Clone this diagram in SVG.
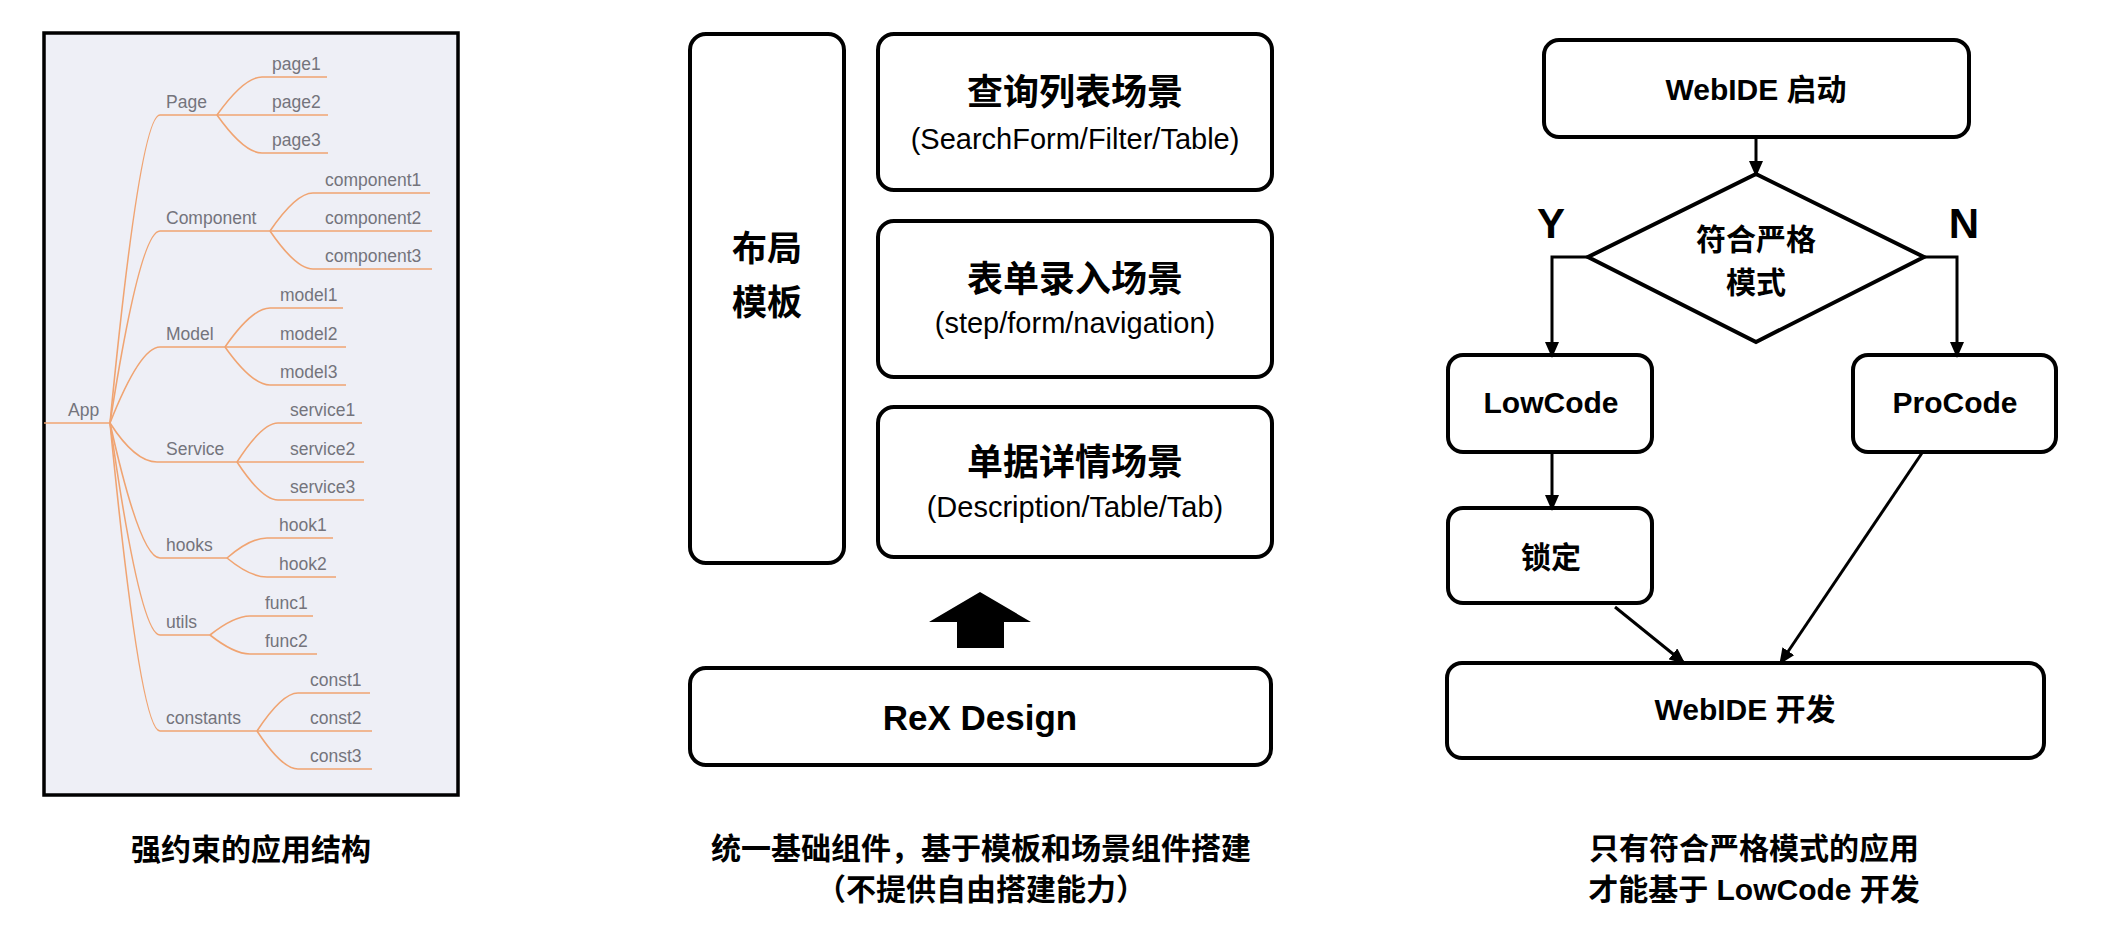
<svg xmlns="http://www.w3.org/2000/svg" width="2104" height="934" viewBox="0 0 2104 934">
<defs>
<style>
.bg{fill:#ffffff}
.panel{fill:#eeeff6;stroke:#000;stroke-width:3.5}
.tl{fill:none;stroke:#f0a472;stroke-width:1.6}
.tt{font-family:"Liberation Sans","Noto Sans",sans-serif;font-size:17.5px;fill:#74747c}
.box{fill:#fff;stroke:#000;stroke-width:4}
.cn{font-family:"Liberation Sans","Noto Sans CJK SC",sans-serif;font-weight:bold;fill:#000;text-anchor:middle}
.sub{font-family:"Liberation Sans","Noto Sans CJK SC",sans-serif;font-size:29px;fill:#000;text-anchor:middle}
.ln{fill:none;stroke:#000;stroke-width:3}
</style>
<marker id="ah" markerUnits="userSpaceOnUse" markerWidth="16" markerHeight="14" refX="13" refY="7" orient="auto">
<path d="M0,0 L16,7 L0,14 z" fill="#000"/>
</marker>
</defs>
<rect class="bg" x="0" y="0" width="2104" height="934"/>

<g id="app-structure">
<rect class="panel" x="44" y="33" width="414" height="762"/>
<path class="tl" d="M44,423 H110"/>
<text class="tt" x="68" y="416">App</text>
<!-- top level -->
<path class="tl" d="M110,423 Q140,115 160,115 H217"/>
<path class="tl" d="M110,423 Q140,231 160,231 H270"/>
<path class="tl" d="M110,423 Q140,347 160,347 H225"/>
<path class="tl" d="M110,423 Q135,462 157,462 H237"/>
<path class="tl" d="M110,423 Q140,558 160,558 H227"/>
<path class="tl" d="M110,423 Q140,635 160,635 H210"/>
<path class="tl" d="M110,423 Q140,731 160,731 H257"/>
<text class="tt" x="166" y="108">Page</text>
<text class="tt" x="166" y="224">Component</text>
<text class="tt" x="166" y="340">Model</text>
<text class="tt" x="166" y="455">Service</text>
<text class="tt" x="166" y="551">hooks</text>
<text class="tt" x="166" y="628">utils</text>
<text class="tt" x="166" y="724">constants</text>
<!-- Page -->
<path class="tl" d="M217,115 Q244,77 262,77 H327"/>
<path class="tl" d="M217,115 H328"/>
<path class="tl" d="M217,115 Q244,153 262,153 H328"/>
<text class="tt" x="272" y="70">page1</text>
<text class="tt" x="272" y="108">page2</text>
<text class="tt" x="272" y="146">page3</text>
<!-- Component -->
<path class="tl" d="M270,231 Q296,193 313,193 H430"/>
<path class="tl" d="M270,231 H432"/>
<path class="tl" d="M270,231 Q296,269 313,269 H432"/>
<text class="tt" x="325" y="186">component1</text>
<text class="tt" x="325" y="224">component2</text>
<text class="tt" x="325" y="262">component3</text>
<!-- Model -->
<path class="tl" d="M225,347 Q252,308 270,308 H343"/>
<path class="tl" d="M225,347 H346"/>
<path class="tl" d="M225,347 Q252,385 270,385 H346"/>
<text class="tt" x="280" y="301">model1</text>
<text class="tt" x="280" y="340">model2</text>
<text class="tt" x="280" y="378">model3</text>
<!-- Service -->
<path class="tl" d="M237,462 Q262,423 278,423 H362"/>
<path class="tl" d="M237,462 H364"/>
<path class="tl" d="M237,462 Q262,500 278,500 H364"/>
<text class="tt" x="290" y="416">service1</text>
<text class="tt" x="290" y="455">service2</text>
<text class="tt" x="290" y="493">service3</text>
<!-- hooks -->
<path class="tl" d="M227,558 Q250,538 267,538 H333"/>
<path class="tl" d="M227,558 Q250,577 267,577 H336"/>
<text class="tt" x="279" y="531">hook1</text>
<text class="tt" x="279" y="570">hook2</text>
<!-- utils -->
<path class="tl" d="M210,635 Q234,616 250,616 H313"/>
<path class="tl" d="M210,635 Q234,654 250,654 H317"/>
<text class="tt" x="265" y="609">func1</text>
<text class="tt" x="265" y="647">func2</text>
<!-- constants -->
<path class="tl" d="M257,731 Q282,693 298,693 H370"/>
<path class="tl" d="M257,731 H372"/>
<path class="tl" d="M257,731 Q282,769 298,769 H372"/>
<text class="tt" x="310" y="686">const1</text>
<text class="tt" x="310" y="724">const2</text>
<text class="tt" x="310" y="762">const3</text>
</g>
<g id="caption-left">
<text class="cn" x="251" y="860" font-size="30">强约束的应用结构</text>
</g>

<!-- Middle panel -->
<g id="layout-template">
<rect class="box" x="690" y="34" width="154" height="529" rx="16"/>
<text class="cn" x="767" y="261" font-size="35">布局</text>
<text class="cn" x="767" y="315" font-size="35">模板</text>
</g>
<g id="scene-query">
<rect class="box" x="878" y="34" width="394" height="156" rx="16"/>
<text class="cn" x="1075" y="105" font-size="36">查询列表场景</text>
<text class="sub" x="1075" y="149">(SearchForm/Filter/Table)</text>
</g>
<g id="scene-form">
<rect class="box" x="878" y="221" width="394" height="156" rx="16"/>
<text class="cn" x="1075" y="292" font-size="36">表单录入场景</text>
<text class="sub" x="1075" y="333">(step/form/navigation)</text>
</g>
<g id="scene-detail">
<rect class="box" x="878" y="407" width="394" height="150" rx="16"/>
<text class="cn" x="1075" y="475" font-size="36">单据详情场景</text>
<text class="sub" x="1075" y="517">(Description/Table/Tab)</text>
</g>
<g id="up-arrow">
<polygon points="980,592 1031,622 1004,622 1004,648 957,648 957,622 929,622" fill="#000"/>
</g>
<g id="rex-design">
<rect class="box" x="690" y="668" width="581" height="97" rx="16"/>
<text class="cn" x="980" y="730" font-size="35">ReX Design</text>
</g>
<g id="caption-middle">
<text class="cn" x="981" y="859" font-size="30">统一基础组件，基于模板和场景组件搭建</text>
<text class="cn" x="981" y="900" font-size="30">（不提供自由搭建能力）</text>
</g>

<!-- Right panel -->
<g id="webide-start">
<rect class="box" x="1544" y="40" width="425" height="97" rx="15"/>
<text class="cn" x="1756" y="100" font-size="30">WebIDE 启动</text>
</g>
<g id="decision">
<polygon class="box" points="1756,174 1924,257 1756,342 1588,257"/>
<text class="cn" x="1756" y="250" font-size="30">符合严格</text>
<text class="cn" x="1756" y="293" font-size="30">模式</text>
</g>
<g id="lowcode">
<rect class="box" x="1448" y="355" width="204" height="97" rx="15"/>
<text class="cn" x="1551" y="413" font-size="30">LowCode</text>
</g>
<g id="procode">
<rect class="box" x="1853" y="355" width="203" height="97" rx="15"/>
<text class="cn" x="1955" y="413" font-size="30">ProCode</text>
</g>
<g id="lock">
<rect class="box" x="1448" y="508" width="204" height="95" rx="15"/>
<text class="cn" x="1551" y="568" font-size="30">锁定</text>
</g>
<g id="webide-dev">
<rect class="box" x="1447" y="663" width="597" height="95" rx="15"/>
<text class="cn" x="1745" y="720" font-size="30">WebIDE 开发</text>
</g>
<g id="labels-yn">
<text class="cn" x="1551" y="238" font-size="42">Y</text>
<text class="cn" x="1964" y="238" font-size="42">N</text>
</g>
<g id="connectors">
<path class="ln" d="M1756,137 V174" marker-end="url(#ah)"/>
<path class="ln" d="M1588,257 H1552 V355" marker-end="url(#ah)"/>
<path class="ln" d="M1924,257 H1957 V355" marker-end="url(#ah)"/>
<path class="ln" d="M1552,452 V508" marker-end="url(#ah)"/>
<path class="ln" d="M1615,607 L1683,662" marker-end="url(#ah)"/>
<path class="ln" d="M1922,453 L1781,662" marker-end="url(#ah)"/>
</g>
<g id="caption-right">
<text class="cn" x="1754" y="859" font-size="30">只有符合严格模式的应用</text>
<text class="cn" x="1754" y="900" font-size="30">才能基于 LowCode 开发</text>
</g>
</svg>
